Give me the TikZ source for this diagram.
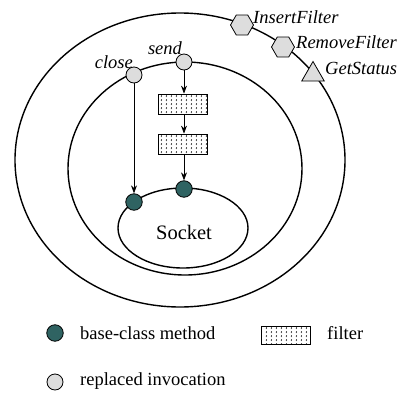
\documentclass[tikz,border=0pt]{standalone}
\usepackage{fontspec}
\setmainfont{Liberation Serif}
\usetikzlibrary{shapes.geometric,arrows.meta,patterns}
\definecolor{baseteal}{RGB}{47,99,98}
\definecolor{replgray}{RGB}{221,221,221}
\pgfdeclarepatternformonly{filterdots}{\pgfqpoint{0pt}{0pt}}{\pgfqpoint{5pt}{4pt}}{\pgfqpoint{5pt}{4pt}}{%
  \pgfsetlinewidth{0.45pt}%
  \pgfpathmoveto{\pgfqpoint{2.2pt}{3.2pt}}%
  \pgfpathlineto{\pgfqpoint{1.2pt}{2.2pt}}%
  \pgfpathlineto{\pgfqpoint{2.2pt}{1.2pt}}%
  \pgfusepath{stroke}%
}
\begin{document}
\begin{tikzpicture}[x=1pt,y=-1pt,
  ring/.style={line width=1.4pt},
  basem/.style={circle,draw,line width=0.8pt,fill=baseteal,minimum size=16.5pt,inner sep=0pt},
  replm/.style={circle,draw,line width=0.8pt,fill=replgray,minimum size=16pt,inner sep=0pt},
  filterbox/.style={draw,line width=0.8pt,pattern=filterdots,minimum width=49pt,minimum height=20pt,inner sep=0pt},
  hexa/.style={regular polygon,regular polygon sides=6,draw,line width=0.8pt,fill=replgray,minimum size=23pt,inner sep=0pt},
  tri/.style={regular polygon,regular polygon sides=3,draw,line width=0.8pt,fill=replgray,minimum size=26pt,inner sep=0pt},
  lbl/.style={font=\fontsize{18.5}{20}\selectfont\itshape,inner sep=0pt},
  legtxt/.style={font=\fontsize{18.5}{20}\selectfont,inner sep=0pt,anchor=west},
  arr/.style={line width=0.8pt,-{Stealth[length=8pt,width=6pt]}}
]
\useasboundingbox (0,0) rectangle (397,394);
% rings
\draw[ring] (180,160) ellipse [x radius=165, y radius=147];
\draw[ring] (185,168.5) ellipse [x radius=117, y radius=106.5];
\draw[ring] (183,228) ellipse [x radius=65, y radius=40];
\node[font=\fontsize{20.5}{22}\selectfont,inner sep=0pt] (sock) at (184,232) {Socket};
% outer interface
\node[hexa] (ins) at (242,25) {};
\node[lbl,anchor=west] (insl) at (253,17) {InsertFilter};
\node[hexa] (rem) at (283,47) {};
\node[lbl,anchor=west] (reml) at (296,42) {RemoveFilter};
\node[tri] (gst) at (313,74.5) {};
\node[lbl,anchor=west] (gstl) at (325,68) {GetStatus};
% replaced invocations
\node[replm] (close) at (134,75) {};
\node[replm] (send) at (184,62) {};
\node[lbl,anchor=east] (closel) at (133,62) {close};
\node[lbl] (sendl) at (165,48) {send};
% filters
\node[filterbox] (f1) at (183,104) {};
\node[filterbox] (f2) at (183,144) {};
% base-class methods
\node[basem] (b1) at (134,202) {};
\node[basem] (b2) at (184,189) {};
% arrows
\draw[arr] (close.south) -- (b1.north);
\draw[arr] (send.south) -- (f1.north -| send.south);
\draw[arr] (f1.south -| send.south) -- (f2.north -| send.south);
\draw[arr] (f2.south -| b2.north) -- (b2.north);
% legend
\node[basem] (lb) at (55,333) {};
\node[legtxt] (lbt) at (80,333) {base-class method};
\node[filterbox,minimum height=18pt] (lf) at (285.5,335) {};
\node[legtxt] (lft) at (327,333) {filter};
\node[replm] (lr) at (55,382) {};
\node[legtxt] (lrt) at (80,381) {replaced invocation};
\end{tikzpicture}
\end{document}
